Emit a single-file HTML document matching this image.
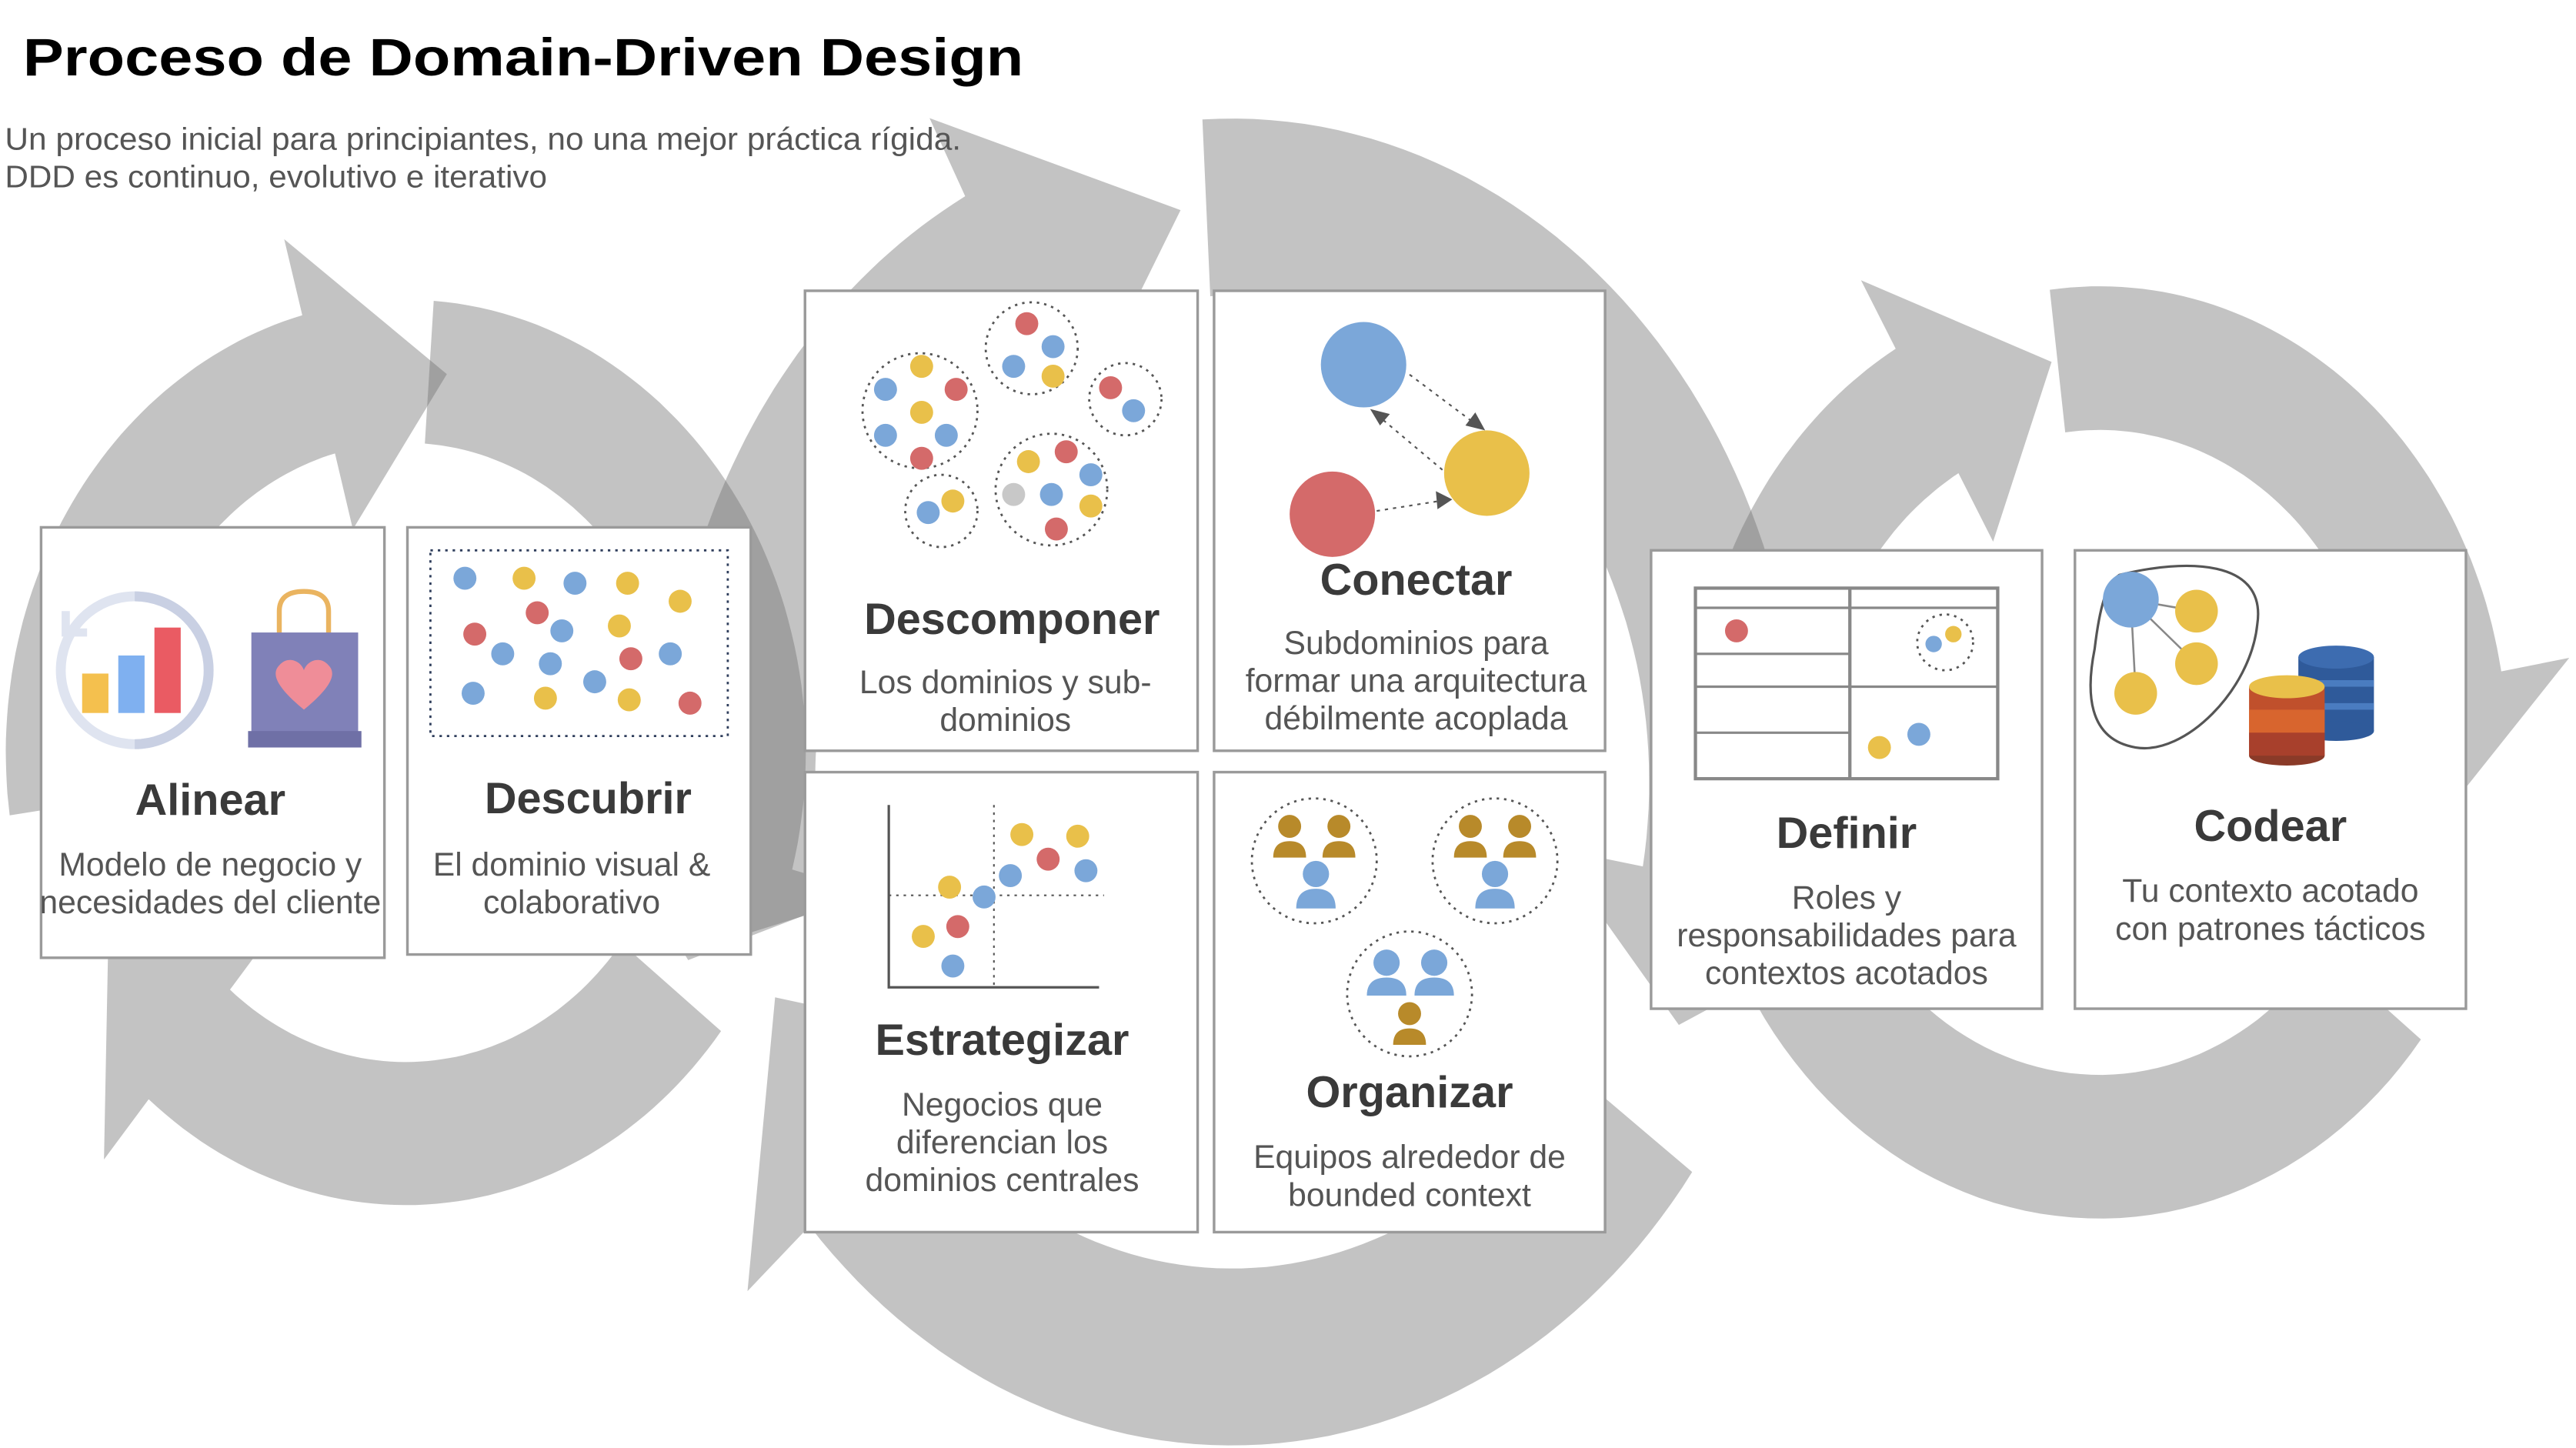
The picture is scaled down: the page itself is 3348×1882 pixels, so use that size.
<!DOCTYPE html>
<html><head><meta charset="utf-8">
<style>
html,body{margin:0;padding:0;background:#fff;}
svg{display:block;}
text{font-family:"Liberation Sans",sans-serif;}
.t{font-weight:bold;fill:#3a3a3a;font-size:27px;text-anchor:middle;}
.d{fill:#555;font-size:20px;text-anchor:middle;}
.box{fill:#fff;stroke:#9a9a9a;stroke-width:1.6;}
.dc{fill:none;stroke:#555;stroke-width:1.3;stroke-dasharray:1.5 3;}
</style></head>
<body>
<svg id="s" width="3348" height="1882" viewBox="0 0 1568 881.4" preserveAspectRatio="none" xmlns="http://www.w3.org/2000/svg">
<g id="arrows"></g>

<text x="14" y="46" textLength="609" lengthAdjust="spacingAndGlyphs" style="font-size:32px;font-weight:900;fill:#000">Proceso de Domain-Driven Design</text>
<text x="3" y="91" textLength="582" lengthAdjust="spacingAndGlyphs" style="font-size:19px;fill:#555">Un proceso inicial para principiantes, no una mejor práctica rígida.</text>
<text x="3" y="114" textLength="330" lengthAdjust="spacingAndGlyphs" style="font-size:19px;fill:#555">DDD es continuo, evolutivo e iterativo</text>

<!-- boxes -->
<rect class="box" x="25" y="321" width="209" height="262"/>
<rect class="box" x="248" y="321" width="209" height="260"/>
<rect class="box" x="490" y="177" width="239" height="280"/>
<rect class="box" x="739" y="177" width="238" height="280"/>
<rect class="box" x="490" y="470" width="239" height="280"/>
<rect class="box" x="739" y="470" width="238" height="280"/>
<rect class="box" x="1005" y="335" width="238" height="279"/>
<rect class="box" x="1263" y="335" width="238" height="279"/>

<!-- Alinear -->
<g>
<circle cx="82" cy="408" r="45" fill="none" stroke="#dfe4f0" stroke-width="6"/>
<path d="M82 363 A45 45 0 0 1 82 453" fill="none" stroke="#c9d0e3" stroke-width="6"/>
<path d="M40 372 L40 385 L53 385" fill="none" stroke="#dfe4f0" stroke-width="5"/>
<rect x="50" y="410" width="16" height="24" fill="#f4c04e"/>
<rect x="72" y="399" width="16" height="35" fill="#7fb0f0"/>
<rect x="94" y="382" width="16" height="52" fill="#ea5b63"/>
<path d="M170 388 V372 Q170 360 185 360 Q200 360 200 372 V388" fill="none" stroke="#eab460" stroke-width="3"/>
<rect x="153" y="385" width="65" height="62" fill="#8081b8"/>
<rect x="151" y="445" width="69" height="10" fill="#6f70a6"/>
<path d="M185 432 C168 418 165 410 170 405 C175 399 183 402 185 408 C187 402 195 399 200 405 C205 410 202 418 185 432Z" fill="#ef8d98"/>
<text class="t" x="128" y="496">Alinear</text>
<text class="d" x="128" y="533">Modelo de negocio y</text>
<text class="d" x="128" y="556">necesidades del cliente</text>
</g>

<!-- Descubrir -->
<g>
<rect x="262" y="335" width="181" height="113" class="dc" style="stroke:#2f3e5c"/>
<g fill="#7ba7d9"><circle cx="283" cy="352" r="7"/><circle cx="350" cy="355" r="7"/><circle cx="342" cy="384" r="7"/><circle cx="306" cy="398" r="7"/><circle cx="335" cy="404" r="7"/><circle cx="408" cy="398" r="7"/><circle cx="288" cy="422" r="7"/><circle cx="362" cy="415" r="7"/></g>
<g fill="#e9c04a"><circle cx="319" cy="352" r="7"/><circle cx="382" cy="355" r="7"/><circle cx="414" cy="366" r="7"/><circle cx="377" cy="381" r="7"/><circle cx="332" cy="425" r="7"/><circle cx="383" cy="426" r="7"/></g>
<g fill="#d46a6a"><circle cx="327" cy="373" r="7"/><circle cx="289" cy="386" r="7"/><circle cx="384" cy="401" r="7"/><circle cx="420" cy="428" r="7"/></g>
<text class="t" x="358" y="495">Descubrir</text>
<text class="d" x="348" y="533">El dominio visual &amp;</text>
<text class="d" x="348" y="556">colaborativo</text>
</g>

<!-- Descomponer -->
<g>
<circle class="dc" cx="560" cy="250" r="35"/><circle class="dc" cx="628" cy="212" r="28"/><circle class="dc" cx="685" cy="243" r="22"/><circle class="dc" cx="573" cy="311" r="22"/><circle class="dc" cx="640" cy="298" r="34"/>
<g fill="#d46a6a"><circle cx="625" cy="197" r="7"/><circle cx="582" cy="237" r="7"/><circle cx="561" cy="279" r="7"/><circle cx="676" cy="236" r="7"/><circle cx="649" cy="275" r="7"/><circle cx="643" cy="322" r="7"/></g>
<g fill="#7ba7d9"><circle cx="641" cy="211" r="7"/><circle cx="617" cy="223" r="7"/><circle cx="539" cy="237" r="7"/><circle cx="576" cy="265" r="7"/><circle cx="539" cy="265" r="7"/><circle cx="690" cy="250" r="7"/><circle cx="664" cy="289" r="7"/><circle cx="640" cy="301" r="7"/><circle cx="565" cy="312" r="7"/></g>
<g fill="#e9c04a"><circle cx="561" cy="223" r="7"/><circle cx="641" cy="229" r="7"/><circle cx="561" cy="251" r="7"/><circle cx="626" cy="281" r="7"/><circle cx="580" cy="305" r="7"/><circle cx="664" cy="308" r="7"/></g>
<circle cx="617" cy="301" r="7" fill="#c8c8c8"/>
<text class="t" x="616" y="386">Descomponer</text>
<text class="d" x="612" y="422">Los dominios y sub-</text>
<text class="d" x="612" y="445">dominios</text>
</g>

<!-- Conectar -->
<g>
<line x1="858" y1="228" x2="898" y2="258" stroke="#555" stroke-dasharray="2 3"/>
<polygon points="904,262 892,259 898,251" fill="#555"/>
<line x1="878" y1="286" x2="840" y2="254" stroke="#555" stroke-dasharray="2 3"/>
<polygon points="834,249 846,252 840,259" fill="#555"/>
<line x1="838" y1="311" x2="876" y2="305" stroke="#555" stroke-dasharray="2 3"/>
<polygon points="884,304 874,299 875,310" fill="#555"/>
<circle cx="830" cy="222" r="26" fill="#7ba7d9"/>
<circle cx="905" cy="288" r="26" fill="#e9c04a"/>
<circle cx="811" cy="313" r="26" fill="#d46a6a"/>
<text class="t" x="862" y="362">Conectar</text>
<text class="d" x="862" y="398">Subdominios para</text>
<text class="d" x="862" y="421">formar una arquitectura</text>
<text class="d" x="862" y="444">débilmente acoplada</text>
</g>

<!-- Estrategizar -->
<g>
<polyline points="541,490 541,601 669,601" fill="none" stroke="#555" stroke-width="1.5"/>
<line x1="605" y1="490" x2="605" y2="601" stroke="#555" stroke-dasharray="1.5 3"/>
<line x1="541" y1="545" x2="672" y2="545" stroke="#555" stroke-dasharray="1.5 3"/>
<g fill="#e9c04a"><circle cx="622" cy="508" r="7"/><circle cx="656" cy="509" r="7"/><circle cx="578" cy="540" r="7"/><circle cx="562" cy="570" r="7"/></g>
<g fill="#d46a6a"><circle cx="638" cy="523" r="7"/><circle cx="583" cy="564" r="7"/></g>
<g fill="#7ba7d9"><circle cx="661" cy="530" r="7"/><circle cx="615" cy="533" r="7"/><circle cx="599" cy="546" r="7"/><circle cx="580" cy="588" r="7"/></g>
<text class="t" x="610" y="642">Estrategizar</text>
<text class="d" x="610" y="679">Negocios que</text>
<text class="d" x="610" y="702">diferencian los</text>
<text class="d" x="610" y="725">dominios centrales</text>
</g>

<!-- Organizar -->
<g>
<circle class="dc" cx="800" cy="524" r="38"/><circle class="dc" cx="910" cy="524" r="38"/><circle class="dc" cx="858" cy="605" r="38"/>
<g fill="#b88a2a">
<circle cx="785" cy="503" r="7"/><path d="M775 522 Q775 512 785 512 Q795 512 795 522Z"/>
<circle cx="815" cy="503" r="7"/><path d="M805 522 Q805 512 815 512 Q825 512 825 522Z"/>
<circle cx="895" cy="503" r="7"/><path d="M885 522 Q885 512 895 512 Q905 512 905 522Z"/>
<circle cx="925" cy="503" r="7"/><path d="M915 522 Q915 512 925 512 Q935 512 935 522Z"/>
<circle cx="858" cy="617" r="7"/><path d="M848 636 Q848 626 858 626 Q868 626 868 636Z"/>
</g>
<g fill="#7ba7d9">
<circle cx="801" cy="532" r="8"/><path d="M789 553 Q789 541 801 541 Q813 541 813 553Z"/>
<circle cx="910" cy="532" r="8"/><path d="M898 553 Q898 541 910 541 Q922 541 922 553Z"/>
<circle cx="844" cy="586" r="8"/><path d="M832 606 Q832 595 844 595 Q856 595 856 606Z"/>
<circle cx="873" cy="586" r="8"/><path d="M861 606 Q861 595 873 595 Q885 595 885 606Z"/>
</g>
<text class="t" x="858" y="674">Organizar</text>
<text class="d" x="858" y="711">Equipos alrededor de</text>
<text class="d" x="858" y="734">bounded context</text>
</g>

<!-- Definir -->
<g>
<rect x="1032" y="358" width="184" height="116" fill="none" stroke="#888" stroke-width="2"/>
<line x1="1126" y1="358" x2="1126" y2="474" stroke="#888" stroke-width="2"/>
<line x1="1032" y1="370" x2="1216" y2="370" stroke="#888" stroke-width="1.5"/>
<line x1="1032" y1="398" x2="1126" y2="398" stroke="#888" stroke-width="1.5"/>
<line x1="1032" y1="418" x2="1216" y2="418" stroke="#888" stroke-width="1.5"/>
<line x1="1032" y1="446" x2="1126" y2="446" stroke="#888" stroke-width="1.5"/>
<circle cx="1057" cy="384" r="7" fill="#d46a6a"/>
<circle class="dc" cx="1184" cy="391" r="17"/>
<circle cx="1177" cy="392" r="5" fill="#7ba7d9"/><circle cx="1189" cy="386" r="5" fill="#e9c04a"/>
<circle cx="1144" cy="455" r="7" fill="#e9c04a"/><circle cx="1168" cy="447" r="7" fill="#7ba7d9"/>
<text class="t" x="1124" y="516">Definir</text>
<text class="d" x="1124" y="553">Roles y</text>
<text class="d" x="1124" y="576">responsabilidades para</text>
<text class="d" x="1124" y="599">contextos acotados</text>
</g>

<!-- Codear -->
<g>
<path d="M1290 350 C1330 340 1380 340 1374 380 C1370 420 1330 460 1300 455 C1270 450 1270 420 1275 395 C1278 370 1282 355 1290 350Z" fill="none" stroke="#555" stroke-width="1.5"/>
<g stroke="#888" stroke-width="1.2"><line x1="1297" y1="365" x2="1337" y2="372"/><line x1="1297" y1="365" x2="1337" y2="404"/><line x1="1297" y1="365" x2="1300" y2="422"/></g>
<circle cx="1297" cy="365" r="17" fill="#7ba7d9"/>
<circle cx="1337" cy="372" r="13" fill="#e9c04a"/><circle cx="1337" cy="404" r="13" fill="#e9c04a"/><circle cx="1300" cy="422" r="13" fill="#e9c04a"/>
<g>
<rect x="1399" y="400" width="46" height="45" fill="#2f5a9a"/><ellipse cx="1422" cy="445" rx="23" ry="6" fill="#2f5a9a"/>
<rect x="1399" y="414" width="46" height="4" fill="#4a7cc0"/><rect x="1399" y="428" width="46" height="4" fill="#4a7cc0"/>
<ellipse cx="1422" cy="400" rx="23" ry="7" fill="#3d6cb0"/>
<rect x="1369" y="418" width="46" height="42" fill="#c0502c"/><ellipse cx="1392" cy="460" rx="23" ry="6" fill="#8a3a28"/>
<rect x="1369" y="432" width="46" height="14" fill="#d8652e"/><rect x="1369" y="446" width="46" height="14" fill="#a8402c"/>
<ellipse cx="1392" cy="418" rx="23" ry="7" fill="#e9c04a"/>
</g>
<text class="t" x="1382" y="512">Codear</text>
<text class="d" x="1382" y="549">Tu contexto acotado</text>
<text class="d" x="1382" y="572">con patrones tácticos</text>
</g>
</svg>
<script>
(function(){
var g=document.getElementById('arrows');var NS='http://www.w3.org/2000/svg';
function arc(cx,cy,rx,ry,W,a1,a2,head,fl){
  var pts=[],i,n=60,a,r=Math.PI/180;
  var ro=1+W/2/((rx+ry)/2), ri=1-W/2/((rx+ry)/2);
  for(i=0;i<=n;i++){a=(a1+(a2-a1)*i/n)*r;pts.push([cx+rx*ro*Math.cos(a),cy+ry*ro*Math.sin(a)]);}
  if(head){
    var f=W*(fl||0.6)/((rx+ry)/2);a=a2*r;
    pts.push([cx+rx*(ro+f)*Math.cos(a),cy+ry*(ro+f)*Math.sin(a)]);
    var at=(a2+head)*r;pts.push([cx+rx*Math.cos(at),cy+ry*Math.sin(at)]);
    pts.push([cx+rx*(ri-f)*Math.cos(a),cy+ry*(ri-f)*Math.sin(a)]);
  }
  for(i=n;i>=0;i--){a=(a1+(a2-a1)*i/n)*r;pts.push([cx+rx*ri*Math.cos(a),cy+ry*ri*Math.sin(a)]);}
  var p=document.createElementNS(NS,'polygon');
  p.setAttribute('points',pts.map(function(q){return q[0].toFixed(1)+','+q[1].toFixed(1)}).join(' '));
  p.setAttribute('fill','#707070');p.setAttribute('fill-opacity','0.42');
  g.appendChild(p);
}
// left cycle
arc(247,458,205,232,82,172,255,22,0.55);
arc(247,458,205,232,82,274,375,18);
arc(247,458,205,232,82,38,130,22,0.55);
// middle cycle
arc(750,476,300,350,100,165,242,22,0.5);
arc(750,476,300,350,100,267,370,15);
arc(750,476,300,350,100,36,138,20,0.55);
// right cycle
arc(1278,458,210,240,82,168,240,22,0.55);
arc(1278,458,210,240,82,263,350,20,0.55);
arc(1278,458,210,240,82,38,172,0);
})();
</script>
</body></html>
